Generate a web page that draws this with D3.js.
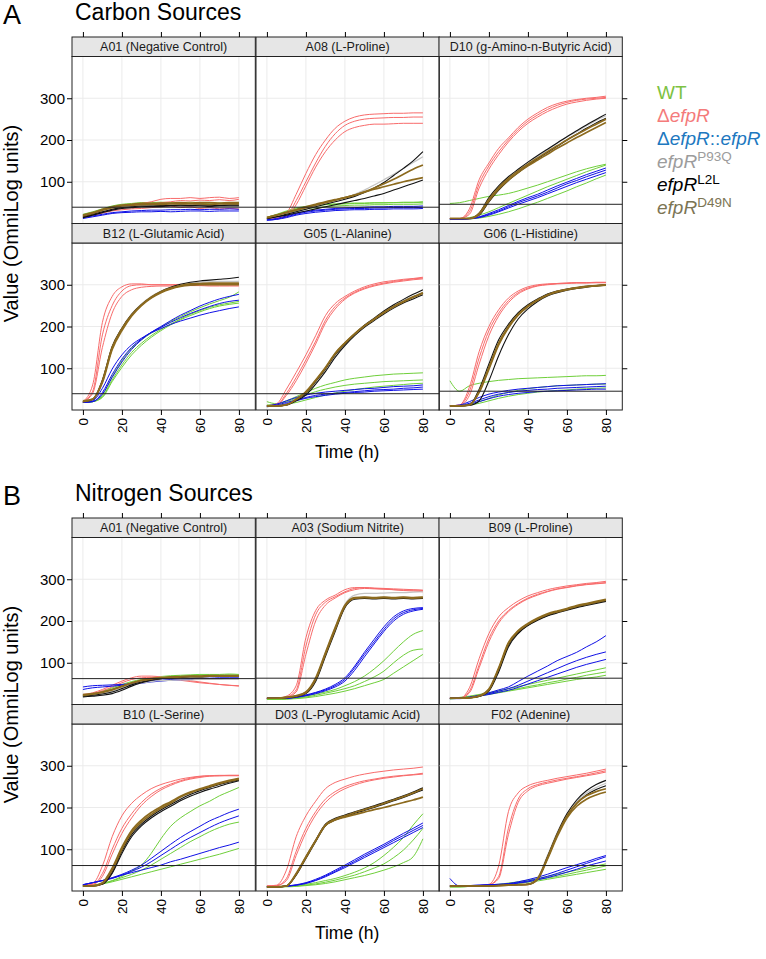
<!DOCTYPE html>
<html>
<head>
<meta charset="utf-8">
<script src="https://cdn.jsdelivr.net/npm/d3@7"></script>
<style>
  body { margin: 0; background: #fff; }
  svg text { font-family: "Liberation Sans", Arial, Helvetica, sans-serif; }
</style>
</head>
<body>
<div id="chart"></div>
<script>
// sampling times (h) for every curve
const times = [0, 5, 10, 15, 20, 25, 30, 35, 40, 45, 50, 55, 60, 65, 70, 75, 80];
const xTicks = [0, 20, 40, 60, 80];
const yTicks = [100, 200, 300];

// strain index: 0 WT, 1 dEfpR, 2 dEfpR::efpR, 3 P93Q, 4 L2L, 5 D49N
const lineColors = ["#6fcf3a", "#f86b6b", "#1010e6", "#c4c4c4", "#111111", "#8c6a1e"];
const lineWidths = [1, 1, 1, 1.2, 1.1, 1.7];

const carbonWells = ["A01 (Negative Control)", "A08 (L-Proline)", "D10 (g-Amino-n-Butyric Acid)",
  "B12 (L-Glutamic Acid)", "G05 (L-Alanine)", "G06 (L-Histidine)"];
const carbonCutoffs = [39, 39, 46, 39, 39, 45];

const nitrogenWells = ["A01 (Negative Control)", "A03 (Sodium Nitrite)", "B09 (L-Proline)",
  "B10 (L-Serine)", "D03 (L-Pyroglutamic Acid)", "F02 (Adenine)"];
const nitrogenCutoffs = [62, 63, 63, 61, 61, 61];

// carbon sources: [strain, values at times]
const carbonA01 = [
  [0, [22,28,35,42,46,48,50,50,51,50,50,51,50,50,49,50,50]],
  [0, [20,25,32,38,42,45,47,48,48,48,47,48,48,47,47,48,48]],
  [1, [18,22,28,35,40,44,48,52,58,60,60,62,60,62,63,60,62]],
  [1, [16,20,25,30,33,35,36,38,40,42,38,40,36,38,35,36,35]],
  [1, [18,22,28,33,37,40,44,46,50,52,55,54,56,55,57,55,58]],
  [2, [12,16,20,24,26,27,28,28,29,28,29,30,30,29,30,30,30]],
  [2, [14,18,22,26,28,30,31,32,32,33,33,34,33,34,34,35,34]],
  [3, [18,24,30,36,40,42,43,44,44,45,44,45,45,44,45,45,45]],
  [4, [14,20,26,32,36,38,40,41,41,42,42,42,42,41,42,42,42]],
  [4, [16,22,28,34,38,40,42,42,43,43,44,43,44,44,43,44,44]],
  [5, [18,24,32,38,42,44,45,46,46,47,47,47,47,46,47,47,47]],
  [5, [20,26,34,40,44,46,48,48,49,49,50,49,50,50,49,50,50]]
];
const carbonA08 = [
  [0, [12,20,28,35,40,43,45,46,47,48,48,49,49,50,50,50,51]],
  [0, [15,22,30,37,41,44,46,47,48,49,49,50,50,50,51,51,52]],
  [0, [10,16,24,30,35,38,40,42,43,44,44,45,45,46,46,46,47]],
  [1, [12,14,25,70,120,165,200,228,245,255,260,262,263,264,264,265,265]],
  [1, [12,13,18,55,100,145,185,215,235,245,250,252,253,254,254,255,255]],
  [1, [12,13,15,45,90,135,172,200,220,230,235,238,238,239,240,240,240]],
  [2, [8,10,16,22,27,30,32,34,35,36,36,37,37,38,38,38,39]],
  [2, [9,12,18,24,29,32,34,36,37,38,39,40,40,41,41,41,42]],
  [2, [8,10,14,20,24,27,29,31,32,33,33,34,34,35,35,35,36]],
  [3, [12,16,22,28,35,42,48,55,62,70,80,92,105,118,132,146,160]],
  [4, [12,16,22,28,34,40,46,52,58,65,74,85,98,115,132,150,172]],
  [4, [12,16,20,25,30,35,40,45,50,55,60,66,72,80,88,96,104]],
  [5, [14,20,27,33,40,46,52,57,62,68,75,82,88,94,100,105,110]],
  [5, [14,20,26,32,38,44,50,56,62,68,76,85,95,106,118,130,140]]
];
const carbonD10 = [
  [0, [48,50,55,60,65,68,72,78,85,92,100,108,116,124,131,137,142]],
  [0, [10,10,14,20,28,38,48,58,68,78,88,97,106,115,124,132,140]],
  [0, [10,10,11,13,17,22,28,35,43,51,60,69,78,88,97,107,116]],
  [1, [12,12,35,105,145,180,205,230,250,265,278,287,293,297,300,302,305]],
  [1, [12,12,28,95,138,172,200,225,245,260,273,283,290,295,298,300,302]],
  [1, [12,12,22,85,130,165,195,220,240,255,268,278,286,291,295,298,300]],
  [2, [10,10,12,15,22,30,40,50,58,66,75,85,95,103,112,120,128]],
  [2, [10,10,12,16,24,33,43,53,62,70,80,90,99,108,117,125,133]],
  [2, [10,10,11,14,20,28,37,46,54,62,71,80,89,98,106,114,122]],
  [3, [12,12,12,22,55,85,108,127,144,160,176,192,207,220,234,247,258]],
  [4, [12,12,12,25,62,90,112,130,147,163,178,193,208,222,236,249,262]],
  [4, [12,12,12,20,52,80,103,122,139,155,170,185,200,214,228,241,252]],
  [5, [12,12,12,24,58,86,108,126,142,157,172,186,200,213,226,238,250]],
  [5, [12,12,12,22,54,82,104,122,138,152,166,180,193,206,218,230,242]]
];
const carbonB12 = [
  [0, [18,20,35,80,118,148,168,184,198,212,224,235,245,254,262,270,283]],
  [0, [18,20,32,72,108,138,160,178,193,206,218,229,238,246,252,256,260]],
  [0, [18,20,30,68,102,132,155,174,190,204,216,226,235,243,249,253,256]],
  [1, [20,60,210,272,295,302,302,300,300,300,300,301,300,300,300,300,300]],
  [1, [20,45,180,250,285,298,300,300,300,300,301,300,300,300,300,300,300]],
  [1, [20,40,150,232,272,288,294,296,297,297,298,298,298,297,297,297,297]],
  [2, [18,22,52,98,132,156,172,185,195,205,213,220,227,233,238,243,247]],
  [2, [18,20,42,85,122,150,170,186,198,210,221,231,240,248,255,260,263]],
  [2, [18,20,38,78,115,145,168,186,200,214,227,238,249,258,266,272,277]],
  [3, [20,25,70,150,196,230,254,272,285,294,300,304,306,307,308,308,308]],
  [4, [20,25,68,148,194,228,252,270,284,294,301,306,309,311,313,315,318]],
  [4, [20,25,72,152,196,229,252,269,282,291,297,300,301,302,302,302,302]],
  [5, [20,26,70,150,195,228,252,270,283,292,298,302,303,304,304,304,304]],
  [5, [22,26,66,145,190,225,250,268,281,290,296,299,300,300,300,300,300]]
];
const carbonG05 = [
  [0, [20,15,22,32,42,52,60,66,72,76,79,82,84,86,87,88,89]],
  [0, [12,14,20,28,36,44,50,55,59,62,64,66,68,69,70,71,72]],
  [0, [8,10,14,18,24,30,36,41,45,49,52,55,57,59,61,63,64]],
  [1, [10,15,50,90,132,178,226,255,272,285,295,302,307,310,313,315,318]],
  [1, [10,12,40,78,120,165,215,248,268,282,292,299,304,308,311,314,316]],
  [1, [10,12,35,70,112,158,208,242,265,280,290,297,302,306,309,312,314]],
  [2, [10,14,22,30,36,40,43,45,47,49,51,52,54,56,57,58,60]],
  [2, [8,12,18,24,30,35,38,40,42,44,46,48,49,50,52,53,55]],
  [2, [8,10,15,22,28,32,35,38,40,42,43,45,46,47,48,49,50]],
  [3, [10,10,12,25,42,70,100,135,160,182,202,218,235,250,262,272,282]],
  [4, [10,10,12,24,40,68,98,132,158,182,203,220,237,252,265,277,288]],
  [4, [10,10,12,22,36,62,92,126,154,178,198,214,230,244,256,266,276]],
  [5, [10,10,12,25,42,70,100,134,160,182,201,217,233,247,259,270,280]],
  [5, [10,10,13,26,44,72,102,136,161,183,202,218,234,248,260,271,281]]
];
const carbonG06 = [
  [0, [70,45,58,64,68,71,73,75,76,77,78,79,80,81,82,82,83]],
  [0, [10,10,14,20,28,36,42,47,51,54,56,58,59,60,61,62,62]],
  [0, [10,10,12,16,22,28,33,37,40,43,45,47,48,50,51,52,53]],
  [1, [10,12,55,140,200,240,268,285,295,300,302,303,304,305,305,305,305]],
  [1, [10,12,45,125,190,232,262,281,292,298,301,303,304,305,305,306,306]],
  [1, [10,11,35,110,178,225,257,278,290,297,300,302,303,304,304,305,305]],
  [2, [10,12,20,30,38,43,47,50,52,54,56,58,59,60,61,62,63]],
  [2, [10,11,16,24,32,38,42,45,47,49,50,52,53,54,55,56,57]],
  [2, [10,10,14,20,27,33,37,40,42,44,45,46,47,48,49,50,50]],
  [3, [10,10,12,45,100,160,200,230,250,265,277,284,289,293,296,298,300]],
  [4, [10,10,12,50,110,168,205,233,252,266,278,285,290,293,296,298,300]],
  [4, [10,10,11,22,70,130,180,218,242,260,273,281,287,291,294,297,299]],
  [5, [10,10,12,45,102,160,200,229,249,264,276,284,289,293,296,298,300]],
  [5, [10,10,12,42,98,156,197,227,248,263,275,283,288,292,295,297,299]]
];

// nitrogen sources
const nitrogenA01 = [
  [0, [22,26,32,40,48,55,60,64,67,69,70,71,72,72,72,73,72]],
  [0, [20,24,30,37,45,52,58,62,65,67,68,69,70,70,70,71,70]],
  [1, [24,28,36,46,56,64,68,68,66,63,60,57,54,51,48,46,44]],
  [1, [22,26,33,42,52,60,64,65,63,61,58,55,52,50,48,46,45]],
  [2, [42,45,46,47,48,50,53,56,58,60,61,62,63,63,64,64,64]],
  [2, [36,40,42,44,46,48,51,54,56,58,59,60,61,61,62,62,62]],
  [3, [20,22,26,32,40,47,52,55,57,58,59,59,60,60,60,61,61]],
  [4, [18,20,22,26,34,44,52,58,62,64,66,67,67,68,68,68,68]],
  [4, [20,22,25,30,38,47,54,59,62,64,65,66,66,67,67,67,67]],
  [5, [24,26,30,36,44,52,58,62,64,66,67,68,68,69,69,69,69]],
  [5, [22,25,29,35,43,51,57,61,63,65,66,67,67,68,68,68,68]]
];
const nitrogenA03 = [
  [0, [12,12,14,16,20,25,30,36,45,55,68,85,105,128,150,168,177]],
  [0, [12,12,13,15,18,22,27,32,38,45,55,66,80,100,118,130,133]],
  [0, [12,12,13,14,16,19,23,27,32,38,45,52,60,75,90,105,120]],
  [1, [15,15,20,45,160,225,250,262,275,280,280,278,277,275,273,272,270]],
  [1, [15,15,18,35,140,215,245,258,270,278,280,279,278,277,276,275,274]],
  [1, [15,15,17,30,120,200,238,255,268,275,278,277,276,275,274,274,273]],
  [2, [15,15,15,18,22,28,35,45,60,88,120,150,180,205,220,227,230]],
  [2, [15,15,15,17,21,26,33,42,56,82,114,145,175,200,216,224,228]],
  [2, [15,15,15,18,23,29,37,48,64,92,125,156,186,210,224,230,232]],
  [3, [15,15,17,22,30,62,125,185,240,262,266,266,267,268,268,269,270]],
  [4, [15,15,17,20,28,60,120,180,235,255,255,255,254,255,255,254,255]],
  [4, [15,15,16,19,26,55,115,175,232,252,254,253,254,253,254,253,254]],
  [5, [15,15,17,20,28,60,120,180,235,255,256,255,256,255,256,255,256]],
  [5, [15,15,17,21,30,64,124,184,238,256,257,256,257,256,257,256,257]]
];
const nitrogenB09 = [
  [0, [15,17,20,24,28,33,38,43,48,53,58,63,68,73,78,83,88]],
  [0, [14,16,19,22,26,30,34,38,43,47,52,56,61,65,70,74,78]],
  [0, [13,15,18,21,24,28,32,36,40,44,48,52,56,60,63,66,70]],
  [1, [15,15,40,110,170,210,232,248,260,268,275,280,284,287,290,292,295]],
  [1, [15,15,32,95,158,200,225,242,255,264,271,277,281,285,288,290,292]],
  [1, [15,15,28,88,150,195,222,240,253,262,270,276,280,284,287,289,291]],
  [2, [15,15,18,22,28,35,42,55,68,80,92,105,115,125,138,150,165]],
  [2, [15,15,17,21,26,32,38,46,56,66,76,86,96,105,113,120,126]],
  [2, [14,14,16,20,24,29,34,41,49,57,65,73,81,89,96,102,108]],
  [3, [15,15,16,20,35,85,145,175,193,206,216,223,229,236,241,246,251]],
  [4, [15,15,16,20,34,82,142,172,190,203,213,221,227,234,239,244,249]],
  [4, [15,15,16,19,32,78,138,170,189,202,212,219,226,232,237,242,247]],
  [5, [15,15,16,20,35,85,145,175,192,205,215,222,228,235,240,245,250]],
  [5, [15,15,16,21,37,88,148,177,194,207,217,224,230,237,242,247,252]]
];
const nitrogenB10 = [
  [0, [12,14,18,25,35,48,62,90,125,155,175,190,204,215,228,238,248]],
  [0, [12,14,18,24,32,40,50,62,76,90,104,118,130,142,152,160,165]],
  [0, [12,14,17,22,28,34,40,46,52,58,64,70,76,82,88,95,102]],
  [1, [15,18,60,130,180,210,230,245,255,262,268,272,275,276,276,276,276]],
  [1, [15,16,42,100,150,185,212,232,246,256,264,270,274,276,277,277,277]],
  [1, [15,16,35,88,138,175,205,226,242,253,262,268,272,275,276,277,277]],
  [2, [15,20,25,32,40,50,62,78,95,112,128,142,155,168,178,188,196]],
  [2, [15,20,25,31,38,47,57,70,85,100,115,128,140,152,163,172,180]],
  [2, [15,20,25,30,38,44,50,56,62,70,76,83,90,97,104,110,117]],
  [3, [12,12,18,48,98,138,163,182,197,210,224,234,242,250,256,262,267]],
  [4, [12,12,17,45,95,135,160,179,194,207,220,231,240,248,255,261,266]],
  [4, [12,12,16,42,90,130,156,175,190,203,216,227,236,244,251,258,264]],
  [5, [12,12,18,50,100,140,165,183,198,210,225,235,243,250,257,263,268]],
  [5, [12,12,20,55,105,145,170,188,202,214,227,237,245,252,259,265,270]]
];
const nitrogenD03 = [
  [0, [10,10,11,13,16,20,25,30,37,45,55,68,85,105,128,158,185]],
  [0, [10,10,11,12,14,17,21,26,32,38,46,55,65,80,98,122,150]],
  [0, [10,10,10,11,13,15,18,22,27,32,37,43,50,58,68,82,125]],
  [1, [12,14,50,130,180,215,245,260,268,275,280,284,287,290,292,294,297]],
  [1, [12,13,30,95,150,190,220,238,250,258,264,268,272,275,277,279,282]],
  [1, [12,13,25,85,140,182,212,232,245,254,261,266,270,273,276,278,280]],
  [2, [10,10,12,15,20,28,38,50,62,75,88,100,112,125,138,150,163]],
  [2, [10,10,12,14,18,25,34,45,56,68,80,92,104,116,128,140,152]],
  [2, [10,10,11,14,19,26,36,47,59,71,84,96,108,121,133,145,157]],
  [3, [10,10,12,40,80,120,158,172,180,188,195,202,210,218,226,235,245]],
  [4, [10,10,12,40,82,122,160,174,182,190,197,204,212,220,228,237,247]],
  [4, [10,10,12,38,78,118,156,170,178,186,193,200,208,216,224,233,242]],
  [5, [10,10,12,40,80,120,158,172,180,188,195,202,210,218,226,235,245]],
  [5, [10,10,12,42,82,121,157,170,177,183,189,195,200,206,212,218,225]]
];
const nitrogenF02 = [
  [0, [10,10,11,12,13,15,17,20,23,27,31,35,40,45,50,55,60]],
  [0, [10,10,11,12,14,16,19,22,26,30,35,40,45,50,55,60,65]],
  [0, [10,10,11,12,13,14,16,18,21,24,28,32,36,40,44,48,52]],
  [1, [12,12,12,13,16,60,190,235,252,260,265,270,274,278,282,287,292]],
  [1, [12,12,12,13,15,35,150,220,245,255,261,266,270,274,278,283,288]],
  [1, [12,12,12,13,15,30,135,212,240,252,258,263,268,272,276,280,285]],
  [2, [30,12,13,14,15,16,18,22,27,33,40,48,56,63,70,78,85]],
  [2, [12,12,13,14,15,16,17,20,24,29,35,42,50,58,66,74,82]],
  [2, [12,12,12,13,14,15,16,19,22,27,32,38,45,52,60,66,72]],
  [3, [12,12,12,12,12,13,14,15,16,32,85,140,185,215,235,248,258]],
  [4, [12,12,12,12,12,13,14,15,16,30,82,138,185,218,240,255,265]],
  [4, [12,12,12,12,12,13,14,15,16,28,78,132,178,210,230,243,252]],
  [5, [12,12,12,12,12,13,14,15,16,30,80,135,180,210,228,238,245]],
  [5, [12,12,12,12,12,13,14,15,16,28,76,130,175,203,220,230,237]]
];

const carbonCurves = [carbonA01, carbonA08, carbonD10, carbonB12, carbonG05, carbonG06];
const nitrogenCurves = [nitrogenA01, nitrogenA03, nitrogenB09, nitrogenB10, nitrogenD03, nitrogenF02];

const width = 766, height = 959;
const colX = [72, 256, 439];
const colW = 183.3;
const stripH = 19.5, panelH = 167;

const svg = d3.select("#chart").append("svg")
    .attr("width", width)
    .attr("height", height);

const x = d3.scaleLinear().domain([-5.6, 88.4]).range([0, colW]);
const y = d3.scaleLinear().domain([0, 400]).range([panelH, 0]);

const line = d3.line()
    .x((d, i) => x(times[i]))
    .y(d => y(d))
    .curve(d3.curveMonotoneX);

function drawBlock(sTop, letter, title, wells, cutoffs, curves) {
    const g = svg.append("g");
    const bottom = sTop + 2 * (stripH + panelH);

    g.append("text").attr("x", 3).attr("y", sTop - 13)
        .attr("font-size", 27).text(letter);
    g.append("text").attr("x", 75).attr("y", sTop - 17.5)
        .attr("font-size", 23).text(title);

    wells.forEach((well, i) => {
        const row = Math.floor(i / 3), col = i % 3;
        const px = colX[col];
        const sy = sTop + row * (stripH + panelH);
        const p = g.append("g").attr("transform", "translate(" + px + "," + (sy + stripH) + ")");

        // grid
        p.selectAll(".gx").data(xTicks).join("line")
            .attr("x1", d => x(d)).attr("x2", d => x(d))
            .attr("y1", 0).attr("y2", panelH)
            .attr("stroke", "#ebebeb");
        p.selectAll(".gy").data(yTicks).join("line")
            .attr("x1", 0).attr("x2", colW)
            .attr("y1", d => y(d)).attr("y2", d => y(d))
            .attr("stroke", "#ebebeb");

        // curves
        p.selectAll(".curve").data(curves[i]).join("path")
            .attr("d", d => line(d[1]))
            .attr("fill", "none")
            .attr("stroke", d => lineColors[d[0]])
            .attr("stroke-width", d => lineWidths[d[0]])
            .attr("stroke-linejoin", "round");

        // cutoff line
        p.append("line")
            .attr("x1", 0).attr("x2", colW)
            .attr("y1", y(cutoffs[i])).attr("y2", y(cutoffs[i]))
            .attr("stroke", "#222").attr("stroke-width", 1);

        p.append("rect")
            .attr("width", colW).attr("height", panelH)
            .attr("fill", "none").attr("stroke", "#222");

        // strip
        const s = g.append("g").attr("transform", "translate(" + px + "," + sy + ")");
        s.append("rect")
            .attr("width", colW).attr("height", stripH)
            .attr("fill", "#e6e6e6").attr("stroke", "#222");
        s.append("text")
            .attr("x", colW / 2).attr("y", stripH / 2 + 4.5)
            .attr("text-anchor", "middle")
            .attr("font-size", 12.5)
            .attr("fill", "#1a1a1a")
            .text(well);
    });

    // x axes (top ticks, bottom ticks with rotated labels)
    colX.forEach(px => {
        g.append("g")
            .attr("transform", "translate(" + px + "," + sTop + ")")
            .call(d3.axisTop(x).tickValues(xTicks).tickSize(5).tickFormat(""))
            .call(a => a.select(".domain").remove());
        const b = g.append("g")
            .attr("transform", "translate(" + px + "," + bottom + ")")
            .call(d3.axisBottom(x).tickValues(xTicks).tickSize(5).tickPadding(3))
            .call(a => a.select(".domain").remove());
        b.selectAll("text")
            .attr("transform", "rotate(-90)")
            .attr("text-anchor", "end")
            .attr("x", -8).attr("y", 0).attr("dy", "0.35em")
            .attr("font-size", 13.5).attr("fill", "#000");
    });

    // y axes: labels on the left column, bare ticks on the right column
    [0, 1].forEach(row => {
        const top = sTop + row * (stripH + panelH) + stripH;
        g.append("g")
            .attr("transform", "translate(" + colX[0] + "," + top + ")")
            .call(d3.axisLeft(y).tickValues(yTicks).tickSize(5).tickPadding(2))
            .call(a => a.select(".domain").remove())
            .selectAll("text").attr("font-size", 15).attr("fill", "#000");
        g.append("g")
            .attr("transform", "translate(" + (colX[2] + colW) + "," + top + ")")
            .call(d3.axisRight(y).tickValues(yTicks).tickSize(5).tickFormat(""))
            .call(a => a.select(".domain").remove());
    });

    g.append("text")
        .attr("transform", "translate(18," + ((sTop + bottom) / 2) + ") rotate(-90)")
        .attr("text-anchor", "middle")
        .attr("font-size", 20)
        .text("Value (OmniLog units)");

    g.append("text")
        .attr("x", colX[0] + (colX[2] + colW - colX[0]) / 2)
        .attr("y", bottom + 48)
        .attr("text-anchor", "middle")
        .attr("font-size", 17.5)
        .text("Time (h)");
}

drawBlock(37, "A", "Carbon Sources", carbonWells, carbonCutoffs, carbonCurves);
drawBlock(518, "B", "Nitrogen Sources", nitrogenWells, nitrogenCutoffs, nitrogenCurves);

// legend
const legendColors = ["#7dc242", "#f47b7b", "#2078bf", "#9c9c9c", "#000000", "#7c7554"];
const legend = svg.append("text")
    .attr("font-size", 19);
const legendY = [99, 122, 145, 168, 191, 214];
const legendParts = [
    [["WT", "normal", false]],
    [["\u0394", "normal", false], ["efpR", "italic", false]],
    [["\u0394", "normal", false], ["efpR", "italic", false], ["::", "normal", false], ["efpR", "italic", false]],
    [["efpR", "italic", false], ["P93Q", "normal", true]],
    [["efpR", "italic", false], ["L2L", "normal", true]],
    [["efpR", "italic", false], ["D49N", "normal", true]]
];
legendParts.forEach((parts, i) => {
    const t = svg.append("text")
        .attr("x", 657).attr("y", legendY[i])
        .attr("font-size", 19)
        .attr("fill", legendColors[i]);
    parts.forEach(([txt, style, sup]) => {
        const ts = t.append("tspan").attr("font-style", style).text(txt);
        if (sup) ts.attr("font-size", 13.5).attr("dy", -7);
    });
});
</script>
</body>
</html>
